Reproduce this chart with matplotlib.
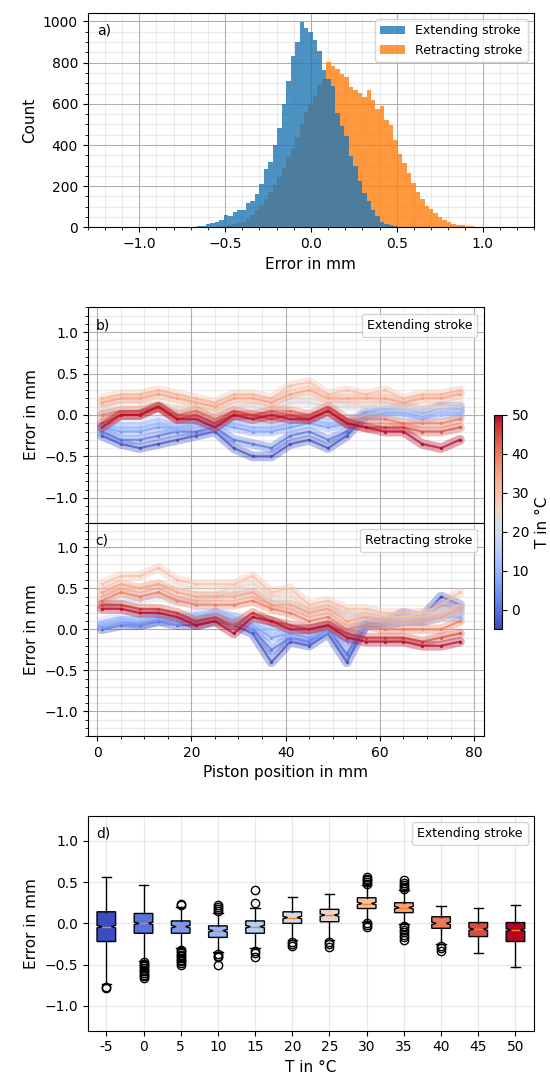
import numpy as np
import matplotlib.pyplot as plt
from matplotlib.ticker import AutoMinorLocator
from matplotlib.lines import Line2D
from matplotlib import cm, colors

# histogram bins (error in mm)
BIN_START = -0.69
BIN_WIDTH = 0.026
EXTEND_COUNTS = [3, 5, 9, 14, 20, 26, 34, 61, 57, 76, 82, 86, 117, 126, 163, 210,
                 285, 316, 400, 484, 597, 709, 830, 898, 998, 969, 947, 911, 859,
                 765, 723, 686, 555, 490, 442, 345, 296, 223, 167, 126, 86, 57,
                 28, 18, 11, 5]
RETRACT_FIRST_BIN = 3
RETRACT_COUNTS = [2, 3, 4, 6, 8, 10, 14, 20, 28, 40, 60, 85, 110, 140, 170, 205,
                  245, 290, 340, 380, 440, 500, 560, 600, 640, 690, 720, 805, 785,
                  770, 745, 728, 680, 665, 652, 632, 665, 620, 575, 590, 520, 495,
                  425, 356, 312, 264, 215, 170, 138, 105, 89, 70, 50, 34, 24, 18,
                  11, 10, 6, 5, 4, 2]

TEMPS = [-5, 0, 5, 10, 15, 20, 25, 30, 35, 40, 45, 50]
POS = [1, 5, 9, 13, 17, 21, 25, 29, 33, 37, 41, 45, 49, 53, 57, 61, 65, 69, 73, 77]

# error vs piston position, one row per temperature
EXT_ERR = [
    [-0.25, -0.35, -0.4, -0.35, -0.3, -0.25, -0.2, -0.4, -0.5, -0.5, -0.35, -0.3, -0.4, -0.25, 0.0, 0.05, 0.05, 0.0, 0.1, 0.1],
    [-0.2, -0.3, -0.3, -0.25, -0.2, -0.2, -0.15, -0.3, -0.35, -0.4, -0.25, -0.2, -0.3, -0.2, 0.05, 0.05, 0.1, 0.05, 0.1, 0.05],
    [-0.15, -0.2, -0.2, -0.15, -0.15, -0.1, -0.1, -0.15, -0.2, -0.2, -0.15, -0.1, -0.15, -0.1, 0.0, 0.05, 0.05, 0.0, 0.05, 0.05],
    [-0.15, -0.15, -0.15, -0.1, -0.15, -0.1, -0.15, -0.1, -0.15, -0.15, -0.1, -0.05, -0.1, -0.1, -0.05, 0.0, 0.0, -0.05, 0.0, 0.0],
    [-0.1, -0.1, -0.1, -0.05, -0.1, -0.05, -0.05, -0.05, -0.05, -0.1, -0.05, 0.0, -0.05, -0.05, 0.0, 0.05, 0.05, 0.0, 0.05, 0.05],
    [0.05, 0.05, 0.05, 0.1, 0.05, 0.05, 0.0, 0.1, 0.1, 0.05, 0.15, 0.15, 0.1, 0.1, 0.1, 0.1, 0.1, 0.05, 0.1, 0.1],
    [0.1, 0.15, 0.15, 0.15, 0.1, 0.1, 0.05, 0.1, 0.15, 0.1, 0.2, 0.2, 0.15, 0.15, 0.1, 0.15, 0.1, 0.1, 0.1, 0.15],
    [0.2, 0.25, 0.25, 0.3, 0.25, 0.2, 0.15, 0.25, 0.25, 0.2, 0.35, 0.4, 0.25, 0.3, 0.25, 0.3, 0.2, 0.25, 0.25, 0.3],
    [0.15, 0.2, 0.2, 0.25, 0.2, 0.15, 0.1, 0.2, 0.2, 0.15, 0.25, 0.3, 0.2, 0.2, 0.2, 0.2, 0.15, 0.2, 0.2, 0.25],
    [0.0, 0.05, 0.05, 0.1, 0.0, 0.05, -0.05, 0.05, 0.0, 0.05, 0.05, 0.0, 0.1, -0.05, -0.05, -0.05, -0.1, -0.1, -0.1, -0.05],
    [-0.1, 0.0, 0.0, 0.1, -0.05, 0.0, -0.1, 0.0, 0.0, -0.05, 0.0, -0.05, 0.05, -0.1, -0.15, -0.15, -0.15, -0.2, -0.2, -0.15],
    [-0.15, 0.0, 0.0, 0.1, -0.05, -0.05, -0.15, 0.0, -0.05, 0.0, -0.05, -0.05, 0.05, -0.1, -0.15, -0.2, -0.2, -0.35, -0.4, -0.3],
]
RET_ERR = [
    [0.0, 0.05, 0.05, 0.1, 0.05, 0.05, 0.1, 0.05, -0.05, -0.4, -0.15, -0.2, -0.05, -0.4, 0.05, 0.1, 0.2, 0.15, 0.4, 0.3],
    [0.05, 0.1, 0.05, 0.1, 0.1, 0.1, 0.2, 0.1, 0.0, -0.25, -0.1, -0.15, 0.0, -0.3, 0.05, 0.1, 0.15, 0.1, 0.3, 0.25],
    [0.05, 0.1, 0.1, 0.15, 0.1, 0.15, 0.2, 0.15, 0.05, -0.1, -0.05, -0.1, 0.0, -0.15, 0.05, 0.05, 0.1, 0.1, 0.2, 0.2],
    [0.05, 0.1, 0.1, 0.15, 0.1, 0.15, 0.15, 0.1, 0.05, 0.0, -0.05, -0.05, 0.0, -0.05, 0.05, 0.05, 0.1, 0.1, 0.15, 0.15],
    [0.1, 0.15, 0.15, 0.2, 0.15, 0.2, 0.2, 0.15, 0.1, 0.05, 0.0, 0.0, 0.05, 0.0, 0.1, 0.1, 0.1, 0.1, 0.15, 0.2],
    [0.3, 0.35, 0.35, 0.4, 0.35, 0.35, 0.4, 0.45, 0.45, 0.35, 0.3, 0.2, 0.25, 0.2, 0.15, 0.15, 0.15, 0.2, 0.2, 0.25],
    [0.45, 0.5, 0.5, 0.55, 0.5, 0.45, 0.45, 0.5, 0.55, 0.4, 0.4, 0.25, 0.3, 0.2, 0.2, 0.15, 0.15, 0.15, 0.2, 0.3],
    [0.55, 0.65, 0.65, 0.75, 0.6, 0.55, 0.55, 0.55, 0.65, 0.45, 0.5, 0.3, 0.35, 0.25, 0.25, 0.2, 0.2, 0.2, 0.3, 0.45],
    [0.45, 0.55, 0.5, 0.55, 0.45, 0.4, 0.4, 0.4, 0.45, 0.3, 0.3, 0.2, 0.25, 0.1, 0.15, 0.1, 0.1, 0.1, 0.15, 0.25],
    [0.35, 0.45, 0.4, 0.45, 0.35, 0.3, 0.3, 0.3, 0.35, 0.25, 0.2, 0.1, 0.15, 0.0, 0.05, 0.0, 0.0, 0.0, 0.0, 0.1],
    [0.3, 0.3, 0.25, 0.25, 0.2, 0.1, 0.15, 0.05, 0.2, 0.1, 0.05, 0.0, 0.05, -0.05, -0.1, -0.1, -0.1, -0.15, -0.1, -0.05],
    [0.25, 0.25, 0.2, 0.2, 0.15, 0.05, 0.1, -0.05, 0.15, 0.1, 0.0, 0.0, 0.05, -0.1, -0.15, -0.15, -0.15, -0.2, -0.2, -0.15],
]

# box statistics per temperature (extending stroke)
BOX_MED = [-0.04, 0.0, -0.04, -0.09, -0.04, 0.07, 0.1, 0.24, 0.19, 0.0, -0.07, -0.08]
BOX_Q1 = [-0.22, -0.12, -0.12, -0.17, -0.12, 0.0, 0.02, 0.18, 0.13, -0.06, -0.16, -0.22]
BOX_Q3 = [0.14, 0.12, 0.03, -0.03, 0.03, 0.14, 0.17, 0.31, 0.25, 0.08, 0.01, 0.01]
BOX_LO = [-0.74, -0.45, -0.3, -0.35, -0.3, -0.2, -0.2, 0.02, -0.01, -0.25, -0.36, -0.53]
BOX_HI = [0.56, 0.46, 0.2, 0.13, 0.19, 0.32, 0.36, 0.46, 0.4, 0.21, 0.19, 0.22]
BOX_FLIERS = [
    [-0.78, -0.77],
    [-0.47, -0.49, -0.5, -0.52, -0.54, -0.56, -0.58, -0.6, -0.62, -0.64, -0.66],
    [0.22, 0.24, -0.32, -0.34, -0.36, -0.38, -0.4, -0.42, -0.44, -0.46, -0.48, -0.5],
    [0.15, 0.18, 0.2, 0.22, -0.37, -0.39, -0.41, -0.51],
    [0.25, 0.4, -0.33, -0.36, -0.41],
    [-0.22, -0.25, -0.27],
    [-0.22, -0.25, -0.29],
    [0.48, 0.5, 0.52, 0.54, 0.56, 0.0, -0.02, -0.05],
    [0.42, 0.44, 0.46, 0.49, 0.52, -0.03, -0.05, -0.08, -0.11, -0.14, -0.17, -0.2],
    [-0.27, -0.3, -0.33],
    [],
    [],
]

LABEL_SIZE = 11
LEGEND_SIZE = 9

cmap = plt.get_cmap('coolwarm')
norm = colors.Normalize(vmin=-5, vmax=50)


def stroke_legend(ax, text):
    h = Line2D([], [], alpha=0)
    ax.legend([h], [text], loc='upper right', handlelength=0, handletextpad=0,
              fontsize=LEGEND_SIZE)


def minor_grid(ax):
    ax.xaxis.set_minor_locator(AutoMinorLocator())
    ax.yaxis.set_minor_locator(AutoMinorLocator())
    ax.grid(which='major', color='#b0b0b0', lw=0.8)
    ax.grid(which='minor', color='#b0b0b0', lw=0.8, alpha=0.25)
    ax.set_axisbelow(True)


fig = plt.figure(figsize=(5.5, 10.77), dpi=100)
ax_a = fig.add_axes([0.1595, 0.7889, 0.8115, 0.1988])
ax_b = fig.add_axes([0.1595, 0.5147, 0.7196, 0.2000])
ax_c = fig.add_axes([0.1595, 0.3166, 0.7196, 0.1981], sharex=ax_b)
cax = fig.add_axes([0.898, 0.4157, 0.0145, 0.199])
ax_d = fig.add_axes([0.1595, 0.0430, 0.8115, 0.1993])

# a) histogram
ext_edges = BIN_START + BIN_WIDTH * np.arange(len(EXTEND_COUNTS) + 1)
ret_edges = BIN_START + BIN_WIDTH * (RETRACT_FIRST_BIN + np.arange(len(RETRACT_COUNTS) + 1))
ax_a.hist(ret_edges[:-1], bins=ret_edges, weights=RETRACT_COUNTS, color='C1',
          alpha=0.8, label='Retracting stroke', zorder=2)
ax_a.hist(ext_edges[:-1], bins=ext_edges, weights=EXTEND_COUNTS, color='C0',
          alpha=0.8, label='Extending stroke', zorder=3)
handles, labels = ax_a.get_legend_handles_labels()
ax_a.legend(handles[::-1], labels[::-1], loc='upper right', fontsize=LEGEND_SIZE)
ax_a.set_xlim(-1.3, 1.3)
ax_a.set_ylim(0, 1040)
ax_a.set_xlabel('Error in mm', fontsize=LABEL_SIZE)
ax_a.set_ylabel('Count', fontsize=LABEL_SIZE)
minor_grid(ax_a)
ax_a.text(0.02, 0.95, 'a)', transform=ax_a.transAxes, va='top')

# b) and c) error vs position
for ax, data, name, tag in [(ax_b, EXT_ERR, 'Extending stroke', 'b)'),
                            (ax_c, RET_ERR, 'Retracting stroke', 'c)')]:
    for T, vals in zip(TEMPS, data):
        col = cmap(norm(T))
        ax.plot(POS, vals, color=col, lw=7, alpha=0.35, solid_capstyle='round',
                solid_joinstyle='round')
        ax.plot(POS, vals, color=col, lw=1.5, alpha=0.7)
        ax.scatter(POS, vals, color=col, s=6, alpha=0.8, lw=0)
    ax.set_ylim(-1.3, 1.3)
    ax.set_ylabel('Error in mm', fontsize=LABEL_SIZE)
    minor_grid(ax)
    stroke_legend(ax, name)
    ax.text(0.02, 0.95, tag, transform=ax.transAxes, va='top')

ax_c.set_xlim(-2, 82)
ax_c.set_xticks([0, 20, 40, 60, 80])
ax_c.xaxis.set_minor_locator(AutoMinorLocator())
ax_b.tick_params(labelbottom=False)
ax_c.set_xlabel('Piston position in mm', fontsize=LABEL_SIZE)

sm = cm.ScalarMappable(norm=norm, cmap=cmap)
cb = fig.colorbar(sm, cax=cax)
cb.set_label('T in °C', fontsize=LABEL_SIZE)

# d) boxplot
stats = []
for i, T in enumerate(TEMPS):
    stats.append({
        'label': str(T),
        'med': BOX_MED[i], 'q1': BOX_Q1[i], 'q3': BOX_Q3[i],
        'whislo': BOX_LO[i], 'whishi': BOX_HI[i],
        'cilo': BOX_MED[i] - 0.015, 'cihi': BOX_MED[i] + 0.015,
        'fliers': BOX_FLIERS[i],
    })
bp = ax_d.bxp(stats, positions=range(1, len(TEMPS) + 1), widths=0.5,
              patch_artist=True, shownotches=True)
for box, T in zip(bp['boxes'], TEMPS):
    box.set_facecolor(cmap(norm(T)))
    box.set_edgecolor('black')
ax_d.set_xlim(0.5, len(TEMPS) + 0.5)
ax_d.set_ylim(-1.3, 1.3)
ax_d.set_yticks([-1.0, -0.5, 0.0, 0.5, 1.0])
ax_d.grid(alpha=0.3)
ax_d.set_axisbelow(True)
ax_d.set_xlabel('T in °C', fontsize=LABEL_SIZE)
ax_d.set_ylabel('Error in mm', fontsize=LABEL_SIZE)
stroke_legend(ax_d, 'Extending stroke')
ax_d.text(0.02, 0.95, 'd)', transform=ax_d.transAxes, va='top')

fig.savefig('out.png', dpi=100)
